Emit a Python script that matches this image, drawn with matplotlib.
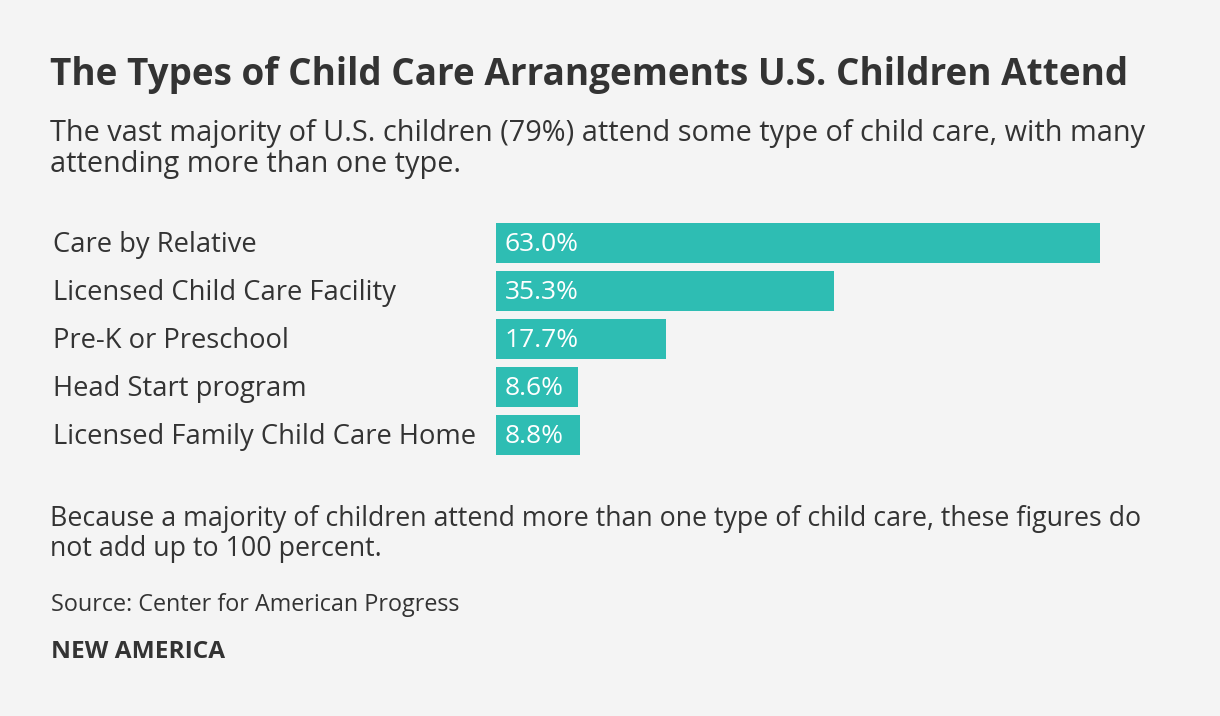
import matplotlib
matplotlib.use("Agg")
import matplotlib.pyplot as plt
import matplotlib.transforms as mtransforms

categories = ["Care by Relative", "Licensed Child Care Facility", "Pre-K or Preschool",
              "Head Start program", "Licensed Family Child Care Home"]
values = [63.0, 35.3, 17.7, 8.6, 8.8]

title = "The Types of Child Care Arrangements U.S. Children Attend"
subtitle = "The vast majority of U.S. children (79%) attend some type of child care, with many\nattending more than one type."
note = "Because a majority of children attend more than one type of child care, these figures do\nnot add up to 100 percent."
source = "Source: Center for American Progress"
brand = "NEW AMERICA"

W, H = 1220, 716
bg = "#f4f4f4"
teal = "#2ebdb3"
dark = "#333333"
plt.rcParams['font.family'] = ['Open Sans', 'DejaVu Sans']

fig = plt.figure(figsize=(W / 100, H / 100), dpi=100, facecolor=bg)

def fx(px):
    return px / W

def fy(py):
    return 1 - py / H

# bar axes in pixel space: x 496..1100, rows 219..459
ax = fig.add_axes([fx(496), fy(459), fx(1100 - 496), (459 - 219) / H])
ax.set_facecolor(bg)
ypos = list(range(len(values)))
ax.barh(ypos, values, height=40 / 48, color=teal, left=0)
ax.set_xlim(0, max(values))
ax.set_ylim(len(values) - 0.5, -0.5)
ax.axis("off")

trans = mtransforms.blended_transform_factory(fig.transFigure, ax.transData)
for y, cat, v in zip(ypos, categories, values):
    ax.text(fx(53), y + 0.05, cat, transform=trans, ha="left", va="center",
            fontsize=19.7, color=dark)
    ax.text(0.9, y + 0.03, f"{v:.1f}%", ha="left", va="center", fontsize=19,
            color="white")

fig.text(fx(50), fy(75), title, fontsize=26.6, fontweight="bold", color=dark,
         va="center", ha="left")
fig.text(fx(50), fy(149), subtitle, fontsize=20.8, color=dark, va="center",
         ha="left", linespacing=1.12)
fig.text(fx(50), fy(534), note, fontsize=19.3, color=dark, va="center",
         ha="left", linespacing=1.12)
fig.text(fx(51), fy(605), source, fontsize=16.8, color=dark, va="center", ha="left")
fig.text(fx(51), fy(652), brand, fontsize=17.6, fontweight="bold", color=dark,
         va="center", ha="left")

fig.savefig("out.png", dpi=100, facecolor=bg)
